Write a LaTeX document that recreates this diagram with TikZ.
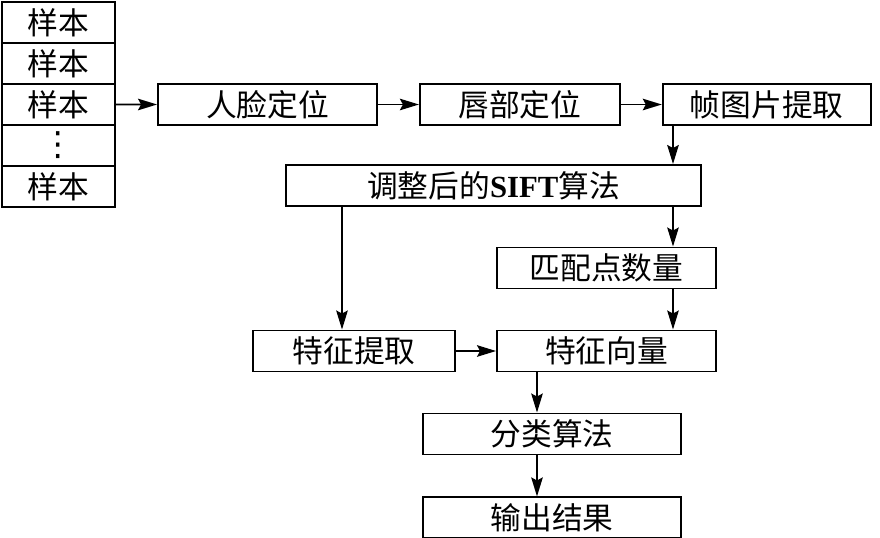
\documentclass[tikz,border=0pt]{standalone}
\usepackage{fontspec}
\setmainfont{Liberation Serif}
\newfontfamily\cjk{Noto Sans CJK SC}
\newfontfamily\dotfont{DejaVu Sans}
\usetikzlibrary{positioning, arrows.meta}

\tikzset{
  box/.style = {draw, line width=1.1pt, inner sep=0pt, minimum height=0.82cm,
    font=\cjk\fontsize{17.5}{20}\selectfont},
  stackbox/.style = {box, minimum width=2.26cm, outer sep=0pt},
}

\begin{document}
\begin{tikzpicture}[x=0.02cm, y=-0.02cm, node distance=0.82cm,
  line width=1.1pt, -{Stealth[length=3.8mm, width=2.3mm, inset=0.6mm]}]
\useasboundingbox (0,0) rectangle (880,538);
% sample stack
\node[stackbox] (s1) at (58.5,22.5) {样本};
\node[stackbox] (s2) [below = 0pt of s1] {样本};
\node[stackbox] (s3) [below = 0pt of s2] {样本};
\node[stackbox] (s4) [below = 0pt of s3] {\dotfont\fontsize{19}{20}\selectfont ⋮};
\node[stackbox] (s5) [below = 0pt of s4] {样本};
% top row
\node[box, minimum width=4.38cm] (face) at (267.5,104.5) {人脸定位};
\node[box, minimum width=4.0cm] (lip) [right = of face] {唇部定位};
\node[box, minimum width=4.16cm] (frame) [right = of lip] {帧图片提取};
% middle
\node[box, minimum width=8.3cm] (sift) at (493.5,185.5) {调整后的\textrm{\bfseries SIFT}算法};
\node[box, minimum width=4.38cm] (match) at (606.5,268) {匹配点数量};
\node[box, minimum width=4.38cm] (vec) at (606.5,351) {特征向量};
\node[box, minimum width=4.04cm] (ext) at (354,351) {特征提取};
% bottom
\node[box, minimum width=5.16cm] (cls) at (552,434) {分类算法};
\node[box, minimum width=5.16cm] (out) [below = of cls] {输出结果};
\coordinate (xr) at (673,0);
\coordinate (xl) at (342,0);
\coordinate (xm) at (537,0);
\draw (s3) -- (face);
\draw (face) -- (lip);
\draw (lip) -- (frame);
\draw (frame.south -| xr) -- (sift.north -| xr);
\draw (sift.south -| xr) -- (match.north -| xr);
\draw (match.south -| xr) -- (vec.north -| xr);
\draw (sift.south -| xl) -- (ext.north -| xl);
\draw (ext) -- (vec);
\draw (vec.south -| xm) -- (cls.north -| xm);
\draw (cls.south -| xm) -- (out.north -| xm);
\end{tikzpicture}
\end{document}
